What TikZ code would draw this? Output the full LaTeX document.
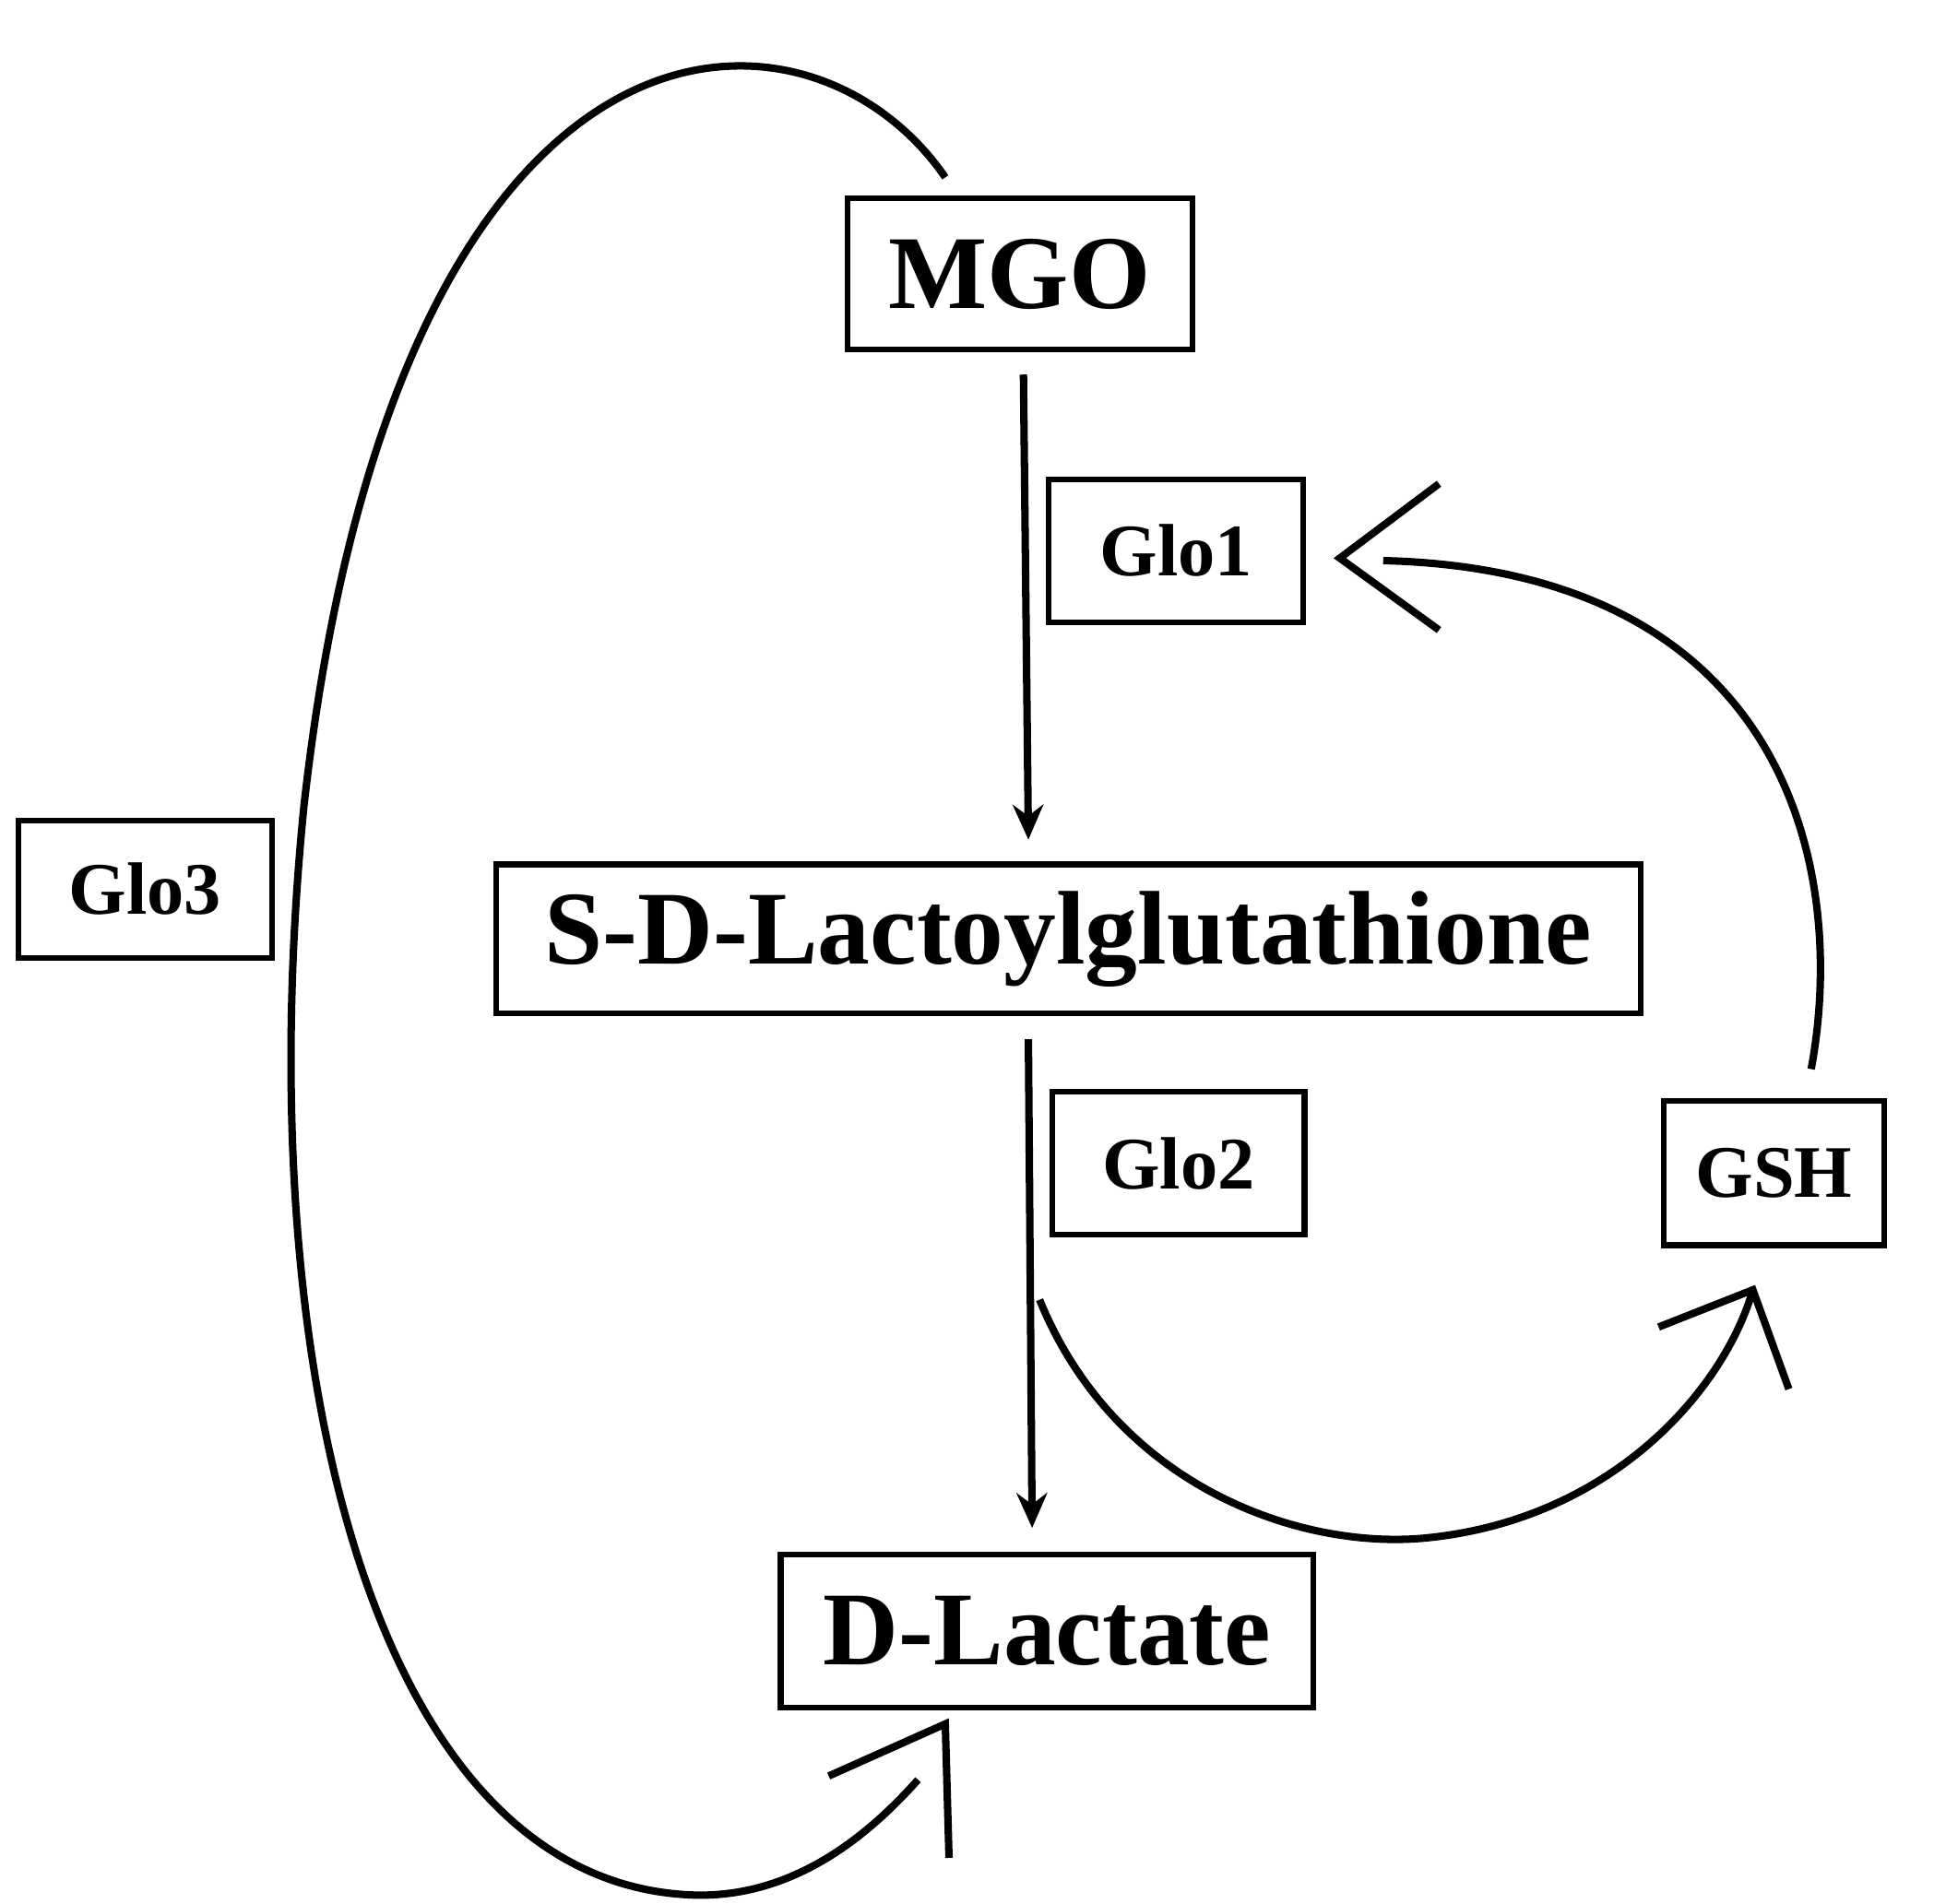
\documentclass[tikz,border=0pt]{standalone}
\usepackage{fontspec}
\setmainfont{Liberation Serif}
\usetikzlibrary{arrows.meta}
\begin{document}
\begin{tikzpicture}[x=0.01cm,y=-0.01cm,line width=1.7pt,
 box/.style={draw,line width=1.3pt,inner sep=0pt,font=\bfseries},
 big/.style={box,font=\fontsize{24}{28}\selectfont\bfseries},
 small/.style={box,font=\fontsize{17}{20}\selectfont\bfseries},
 arr/.style={-{Stealth[length=8pt,width=7pt]}}]
\useasboundingbox (0,0) rectangle (1559,1535);
\node[big,minimum width=2.78cm,minimum height=1.22cm] (mgo) at (822,221) {MGO};
\node[small,minimum width=2.05cm,minimum height=1.15cm] (glo1) at (948,444) {Glo1};
\node[big,minimum width=9.22cm,minimum height=1.2cm] (sdl) at (861,757) {S-D-Lactoylglutathione};
\node[small,minimum width=2.03cm,minimum height=1.15cm] (glo2) at (950,938) {Glo2};
\node[small,minimum width=1.77cm,minimum height=1.16cm] (gsh) at (1430,946) {GSH};
\node[small,minimum width=2.04cm,minimum height=1.11cm] (glo3) at (117,717) {Glo3};
\node[big,minimum width=4.29cm,minimum height=1.23cm] (dl) at (844,1315) {D-Lactate};
\coordinate (a1) at (825,302);
\coordinate (a2) at (829,677);
\draw[arr] (a1) -- (a2);
\coordinate (b1) at (829,838);
\coordinate (b2) at (832,1232);
\draw[arr] (b1) -- (b2);
% Glo2 -> GSH
\coordinate (c1) at (838,1048);
\coordinate (c2) at (1413,1040);
\draw (c1) .. controls (900,1200) and (1050,1250) .. (1150,1240) .. controls (1300,1225) and (1390,1120) .. (c2);
\draw (1337,1070) -- (c2) -- (1442,1120);
% GSH -> Glo1
\coordinate (d1) at (1460,862);
\coordinate (d2) at (1080,450);
\draw (d1) .. controls (1490,700) and (1440,460) .. (1115,452);
\draw (1160,390) -- (d2) -- (1160,508);
% Glo3 loop
\coordinate (e1) at (762,143);
\coordinate (e2) at (762,1390);
\draw (e1) .. controls (650,-20) and (320,-20) .. (245,650) .. controls (200,1100) and (300,1520) .. (560,1528) .. controls (640,1530) and (700,1480) .. (740,1435);
\draw (668,1432) -- (e2) -- (765,1498);
\end{tikzpicture}
\end{document}
